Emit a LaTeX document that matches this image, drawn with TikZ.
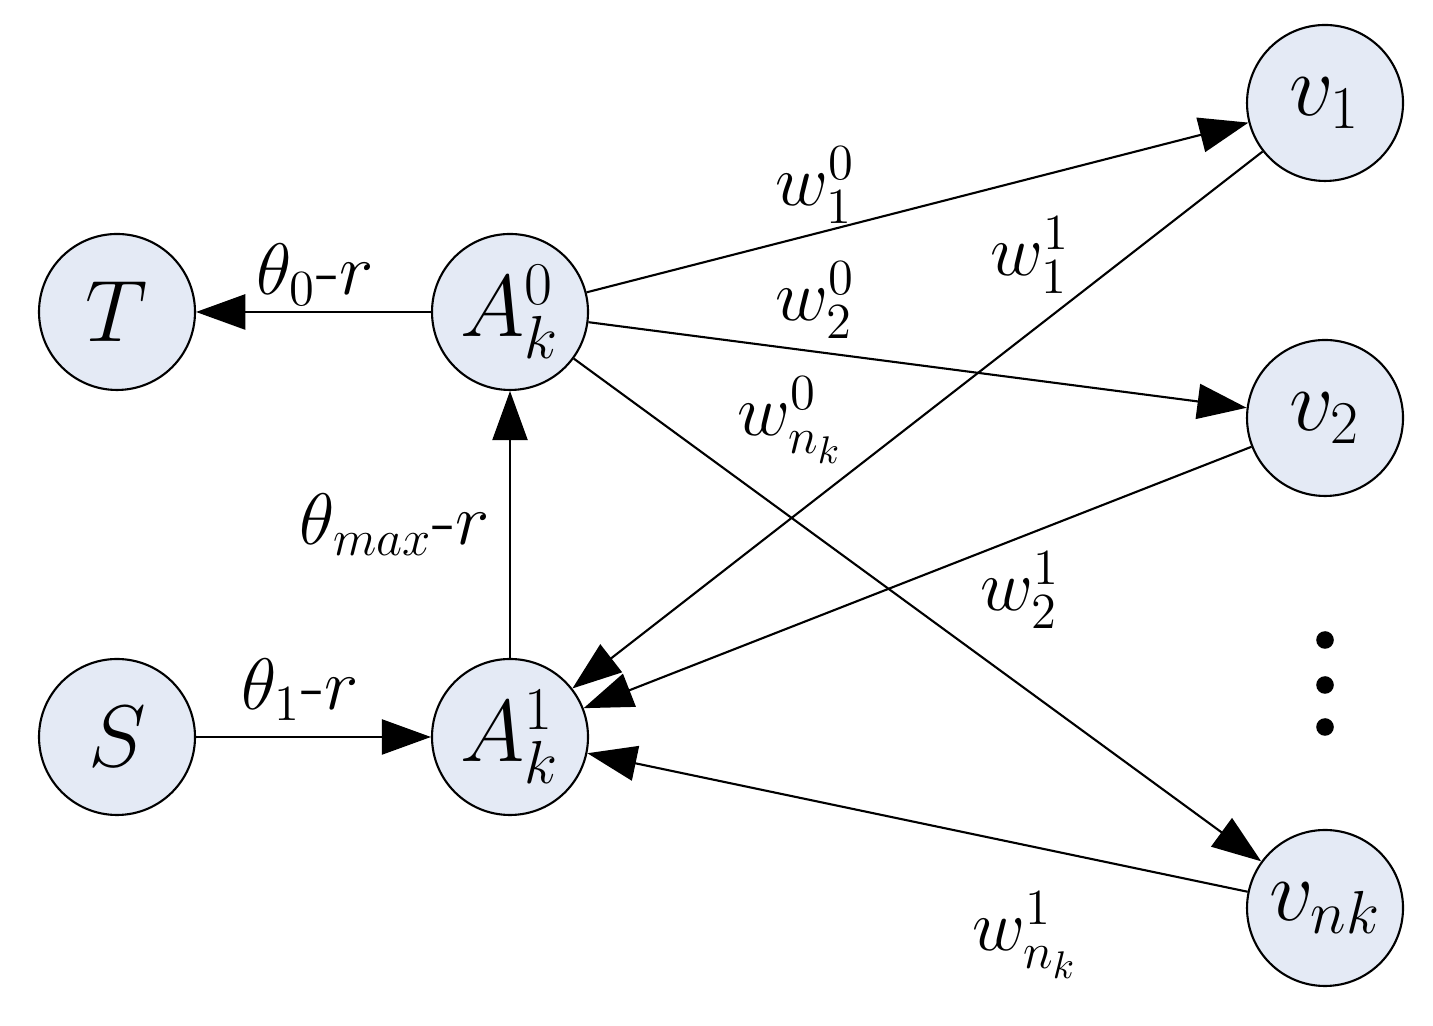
\documentclass[tikz,border=0pt]{standalone}
\usetikzlibrary{arrows.meta}
\definecolor{nodefill}{RGB}{228,234,245}
\tikzset{
  arr/.style={-{Triangle[length=14pt,width=10pt]},line width=0.6pt},
  lbl/.style={font=\fontsize{22}{26}\selectfont},
  dot/.style={circle,fill=black,inner sep=0pt,minimum size=5pt}
}
\begin{document}
\begin{tikzpicture}
	\useasboundingbox (0,0) rectangle (14.33,10.26);
	\begin{scope}[every node/.style={circle,draw,line width=0.6pt,fill=nodefill,minimum size=1.56cm,inner sep=0pt,font=\fontsize{26}{30}\selectfont}]
	\node (T)   at (1.17, 7.14) {$T$};
	\node (A0)  at (5.10, 7.14) {$A_k^0$};

	\node (S)   at (1.17, 2.89) {$S$};
	\node (A1)  at (5.10, 2.89) {$A_k^1$};

	\node (v1)  at (13.25, 9.23) {$v_1$};
	\node (v2)  at (13.25, 6.08) {$v_2$};
	\node (vnk) at (13.25, 1.18) {$v_{nk}$};
	\end{scope}

	\begin{scope}[every node/.style={lbl}]
	\node (l-t0)   at (3.15, 7.51) {$\theta_0$-$r$};
	\node (l-t1)   at (3.00, 3.36) {$\theta_1$-$r$};
	\node (l-tmax) at (3.95, 5.01) {$\theta_{max}$-$r$};
	\node (l-w10)  at (8.15, 8.41) {$w_1^0$};
	\node (l-w20)  at (8.15, 7.26) {$w_2^0$};
	\node (l-wn0)  at (7.90, 6.06) {$w_{n_k}^0$};
	\node (l-w11)  at (10.30, 7.71) {$w_1^1$};
	\node (l-w21)  at (10.20, 4.36) {$w_2^1$};
	\node (l-wn1)  at (10.25, 0.91) {$w_{n_k}^1$};
	\end{scope}

	\node [dot] (dot1) at (13.25, 3.86) {};
	\node [dot] (dot2) at (13.25, 3.41) {};
	\node [dot] (dot3) at (13.25, 2.99) {};

	\path [arr] (A0) edge (T);
	\path [arr] (S) edge (A1);
	\path [arr] (A1) edge (A0);

	\path [arr] (A0) edge (v1);
	\path [arr] (A0) edge (v2);
	\path [arr] (A0) edge (vnk);

	\path [arr] (v1) edge (A1);
	\path [arr] (v2) edge (A1);
	\path [arr] (vnk) edge (A1);
\end{tikzpicture}
\end{document}
